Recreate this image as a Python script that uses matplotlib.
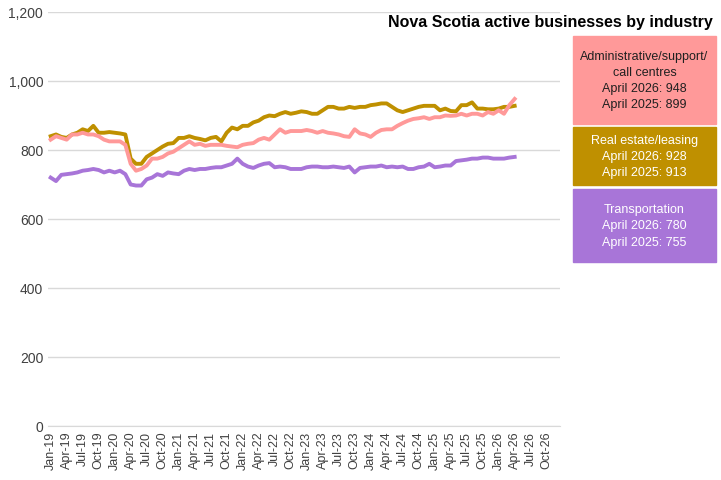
import matplotlib
matplotlib.use("Agg")
import matplotlib.pyplot as plt
import matplotlib.patches as mpatches

plt.rcParams['font.family'] = ['Liberation Sans', 'DejaVu Sans']

years = [19, 20, 21, 22, 23, 24, 25, 26]
months = ["Jan", "Feb", "Mar", "Apr", "May", "Jun", "Jul", "Aug", "Sep", "Oct", "Nov", "Dec"]
categories = [f"{m}-{y}" for y in years for m in months]  # axis Jan-19..Dec-26

real_estate = [840,845,838,835,845,850,860,855,870,850,850,852,
               850,848,845,775,760,760,780,790,800,810,818,820,
               835,835,840,835,832,828,835,838,825,850,865,860,
               870,870,880,885,895,900,898,905,910,905,908,912,
               910,905,905,915,925,925,920,920,925,922,925,925,
               930,932,935,935,925,915,910,915,920,925,928,928,
               928,915,920,913,912,930,930,938,920,920,918,918,
               920,925,925,928]
admin = [830,840,835,830,845,845,850,845,845,840,830,825,
         825,825,815,760,740,745,755,775,775,780,790,795,
         805,815,825,815,818,812,815,815,815,812,810,808,
         815,818,820,830,835,830,845,860,850,855,855,855,
         858,855,850,855,850,848,845,840,838,860,848,845,
         838,850,858,860,860,870,878,885,890,892,895,890,
         895,895,900,899,900,905,900,905,905,900,910,905,
         915,905,930,948]
transport = [720,710,728,730,732,735,740,742,745,742,735,740,
             735,740,730,700,697,697,715,720,730,725,735,732,
             730,740,745,742,745,745,748,750,750,755,760,775,
             760,752,748,755,760,762,750,752,750,745,745,745,
             750,752,752,750,750,752,750,748,752,735,748,750,
             752,752,755,750,752,750,752,745,745,750,752,760,
             750,752,755,755,768,770,772,775,775,778,778,775,
             775,775,778,780]

c_admin, c_re, c_tr = "#FF9999", "#BF9000", "#A875D8"

fig = plt.figure(figsize=(7.21, 4.81), dpi=100)
ax = fig.add_axes([48/721, 1-427/481, 512/721, 414/481])
x = list(range(len(real_estate)))
ax.plot(x, real_estate, color=c_re, lw=2.8)
ax.plot(x, admin, color=c_admin, lw=2.8)
ax.plot(x, transport, color=c_tr, lw=2.8)
ax.set_xlim(-0.5, len(categories) - 0.5)
ax.set_ylim(0, 1200)
ax.set_yticks(range(0, 1201, 200))
ax.set_yticklabels([f"{v:,}" for v in range(0, 1201, 200)], fontsize=10, color="#404040")
ax.set_xticks(range(0, len(categories), 3))
ax.set_xticklabels(categories[::3], rotation=90, fontsize=9, color="#404040")
ax.grid(axis="y", color="#d9d9d9", lw=1)
ax.set_axisbelow(True)
for s in ["top", "right", "left"]:
    ax.spines[s].set_visible(False)
ax.spines["bottom"].set_color("#d9d9d9")
ax.tick_params(length=0)

fig.text(713/721, 1-22/481, "Nova Scotia active businesses by industry",
         ha="right", va="center", fontsize=11.5, fontweight="bold")

boxes = [
    (37, 125, c_admin, "Administrative/support/\ncall centres\nApril 2026: 948\nApril 2025: 899", "#202020"),
    (128, 186, c_re, "Real estate/leasing\nApril 2026: 928\nApril 2025: 913", "white"),
    (190, 263, c_tr, "Transportation\nApril 2026: 780\nApril 2025: 755", "white"),
]
for top, bot, col, txt, tc in boxes:
    fig.patches.append(mpatches.Rectangle((573/721, 1-bot/481), 143/721, (bot-top)/481,
                                          transform=fig.transFigure, color=col))
    fig.text(644.5/721, 1-(top+bot)/2/481, txt, ha="center", va="center",
             fontsize=9, color=tc, linespacing=1.45)

fig.savefig("out.png", dpi=100)
